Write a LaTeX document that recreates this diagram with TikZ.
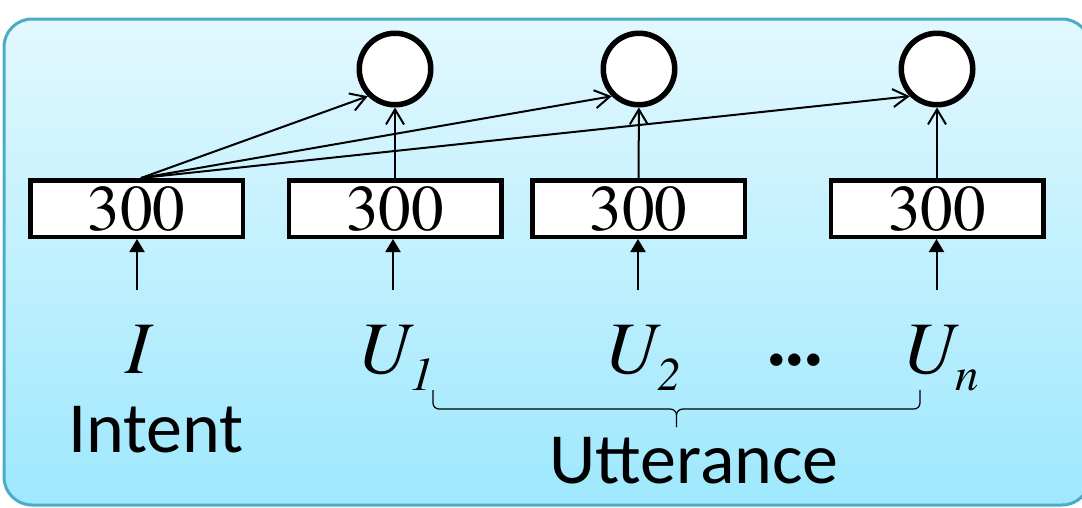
\documentclass[tikz,border=0pt]{standalone}
\usepackage[T1]{fontenc}
\usepackage{fontspec}
\newfontfamily\labelfont{Carlito}
\newcommand{\romanface}{\fontencoding{T1}\fontfamily{ptm}\fontseries{m}\fontshape{n}\selectfont}
\newcommand{\italicface}{\fontencoding{T1}\fontfamily{ptm}\fontseries{m}\fontshape{it}\selectfont}
\usetikzlibrary{arrows.meta}
\definecolor{panelTop}{HTML}{E2F8FE}
\definecolor{panelBot}{HTML}{9EE8FD}
\definecolor{panelEdge}{HTML}{4BACC6}
\newcommand{\subsc}[1]{\rlap{\raisebox{-17pt}{\fontsize{47}{47}\italicface #1}}}
\begin{document}
\begin{tikzpicture}[x=1pt,y=-1pt,
  emb/.style={draw, line width=4.5pt, fill=white, minimum width=212.5pt,
    minimum height=56.5pt, inner sep=0pt, font=\fontsize{65}{65}\romanface},
  unit/.style={draw, circle, line width=5.5pt, fill=white, minimum size=71.5pt, inner sep=0pt},
  feed/.style={-{Straight Barb[length=15pt,width=18pt]}, line width=2pt},
  inp/.style={-{Triangle[length=13pt,width=15pt]}, line width=2pt},
  sym/.style={anchor=base, inner sep=0pt, font=\fontsize{74}{74}\italicface},
  word/.style={anchor=base, inner sep=0pt, font=\fontsize{72}{72}\selectfont\labelfont},
  brace/.style={line width=1.2pt},
]
\useasboundingbox (0,0) rectangle (1082,507);

% panel
\shade[top color=panelTop, bottom color=panelBot, draw=panelEdge, line width=3pt,
  rounded corners=28pt] (4,19) rectangle (1090,505);

% embedding boxes
\node[emb] (b1) at (136.5,208.5) {300};
\node[emb] (b2) at (395,208.5) {300};
\node[emb] (b3) at (638.5,208.5) {300};
\node[emb] (b4) at (937,208.5) {300};

% output units
\node[unit] (c1) at (395,69) {};
\node[unit] (c2) at (639,69) {};
\node[unit] (c3) at (937,69) {};

% intent feeds every unit
\coordinate (hub) at (141,178);
\draw[feed] (hub) -- (c1.south west);
\draw[feed] (hub) -- (c2.south west);
\draw[feed] (hub) -- (c3.south west);

% utterance words feed their own unit
\draw[feed] (b2) -- (c1);
\draw[feed] (b3) -- (c2);
\draw[feed] (b4) -- (c3);

% inputs
\coordinate (i1) at (137,290);
\coordinate (i2) at (393,290);
\coordinate (i3) at (638,290);
\coordinate (i4) at (936.5,290);
\draw[inp] (i1) -- (b1.south -| i1);
\draw[inp] (i2) -- (b2.south -| i2);
\draw[inp] (i3) -- (b3.south -| i3);
\draw[inp] (i4) -- (b4.south -| i4);

% symbols
\node[sym] (lI) at (138,373) {I};
\node[sym] (lU1) at (384,373) {U\subsc{1}};
\node[sym] (lU2) at (631,373) {U\subsc{2}};
\node[sym, font=\fontsize{74}{74}\romanface\bfseries] (dots) at (795,365) {...};
\node[sym] (lUn) at (929,373) {U\subsc{n}};

% captions
\node[word] (intent) at (156,452) {Intent};
\node[word] (utt) at (694,483) {Utterance};

% brace under the utterance symbols
\draw[brace] (433,390) -- (433,403) to[out=-90,in=180] (439,409) -- (670,409)
  to[out=0,in=90] (676.5,415) -- (676.5,427);
\draw[brace] (920,390) -- (920,403) to[out=-90,in=0] (914,409) -- (683,409)
  to[out=180,in=90] (676.5,415);
\end{tikzpicture}
\end{document}
